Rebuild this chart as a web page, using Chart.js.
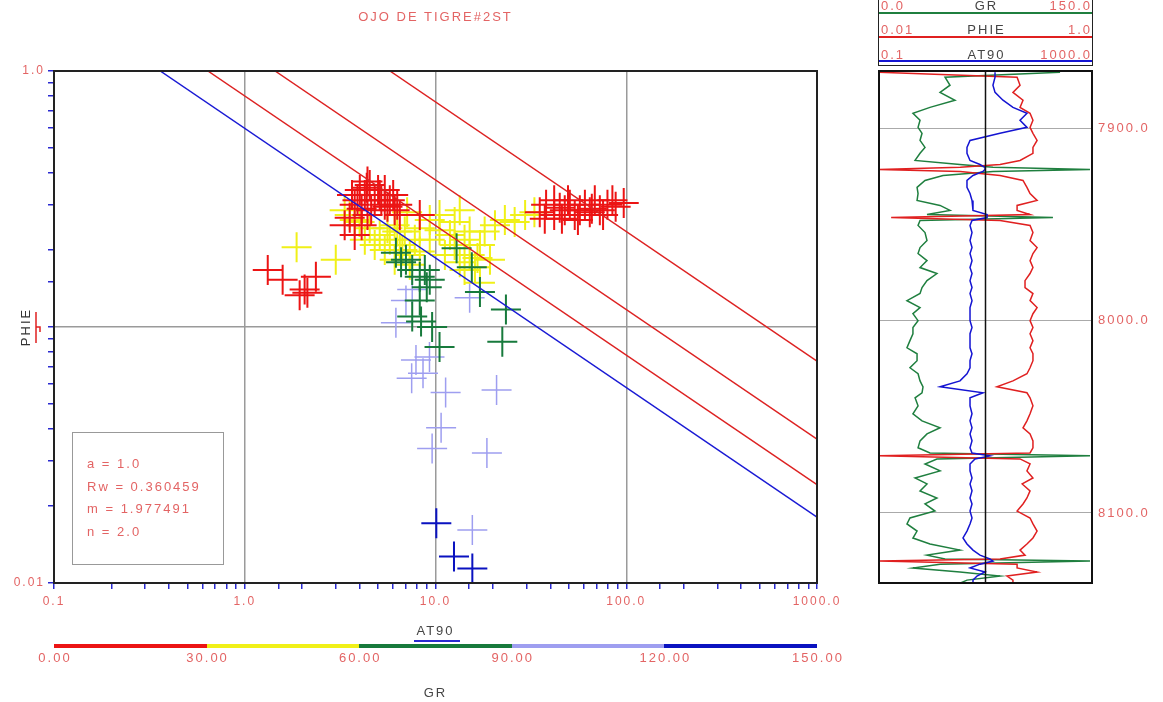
<!DOCTYPE html>
<html>
<head>
<meta charset="utf-8">
<title>OJO DE TIGRE#2ST</title>
<script src="https://cdn.jsdelivr.net/npm/chart.js@4.4.0/dist/chart.umd.min.js"></script>
<style>
    body { margin: 0; background: #fff; font-family: "Liberation Sans", Arial, sans-serif; }
    #page { position: relative; width: 1163px; height: 702px; overflow: hidden; }
    #mainBox { position: absolute; left: 0; top: 0; }
    #wellBox { position: absolute; left: 860px; top: 0; }
    .txt { position: absolute; color: #e36464; font-size: 13px; letter-spacing: 2px; white-space: nowrap; line-height: 1; }
    .mid { transform: translate(-50%, -50%); }
    .lft { transform: translate(0, -50%); }
    .rgt { transform: translate(-100%, -50%); }
    .bar { position: absolute; }
</style>
</head>
<body>
<div id="page">
    <div id="mainBox"><canvas id="pickett" width="860" height="702"></canvas></div>
    <div id="wellBox"><canvas id="welllog" width="303" height="702"></canvas></div>
    <div id="overlay"></div>
</div>
<script>
// ---- pickett plot data (AT90 vs PHIE), grouped by GR bin ----
const grEdges = [0, 30, 60, 90, 120, 150];
const grColors = ['#ec1414', '#f0f018', '#177a3c', '#9e9ef0', '#0a12c0'];

const redRt = [1.32, 1.58, 2.06, 2.36, 1.94, 2.13,
    4.01, 4.26, 4.52, 4.80, 5.10, 5.42, 4.6, 5.76, 6.11, 3.77, 4.1, 3.77, 4.4, 6.50, 8.27, 3.34, 5.0, 5.42,
    3.65, 3.9, 4.36, 5.2, 5.6, 4.1, 3.55, 6.0, 6.3, 4.4,
    35.2, 38, 41.9, 44.8, 47.6, 50.6, 53.7, 57.1, 60.7, 64.4, 68.4, 72.7, 79.7, 88, 97, 41.9, 46,
    37.4, 49.5, 55.8, 66, 75.6, 84.6];
const redPhi = [0.167, 0.153, 0.140, 0.157, 0.133, 0.136,
    0.343, 0.328, 0.359, 0.313, 0.328, 0.300, 0.286, 0.313, 0.286, 0.300, 0.250, 0.229, 0.274, 0.274, 0.274, 0.250, 0.343, 0.343,
    0.328, 0.313, 0.350, 0.313, 0.295, 0.290, 0.267, 0.328, 0.300, 0.370,
    0.281, 0.300, 0.274, 0.292, 0.286, 0.300, 0.274, 0.286, 0.300, 0.281, 0.313, 0.286, 0.300, 0.295, 0.305, 0.313, 0.265,
    0.265, 0.313, 0.262, 0.290, 0.274, 0.313];

const yellowRt = [1.87, 3.00, 3.55, 4.0, 4.52, 5.10, 5.76, 6.11, 6.50, 6.90, 7.33, 5.42, 4.80, 4.26, 3.77, 7.79, 8.27, 9.33,
    10.5, 12.6, 14.2, 15.1, 16.1, 17.1, 18.1, 19.3, 13.4, 20.5, 23.1, 26.0, 29.5, 7.1, 13.4, 3.34, 6.11, 17.1, 10.5, 11.9,
    6.3, 5.6, 6.7, 15.1, 16.6, 33, 8.27, 11.2, 12.6, 9.33, 14.2, 7.33];
const yellowPhi = [0.205, 0.183, 0.274, 0.257, 0.243, 0.229, 0.219, 0.250, 0.209, 0.236, 0.191, 0.200, 0.209, 0.219, 0.262, 0.219, 0.243, 0.262,
    0.274, 0.257, 0.219, 0.191, 0.171, 0.209, 0.236, 0.183, 0.179, 0.250, 0.262, 0.257, 0.274, 0.281, 0.286, 0.286, 0.183, 0.149, 0.239, 0.229,
    0.236, 0.243, 0.200, 0.236, 0.186, 0.281, 0.197, 0.191, 0.209, 0.219, 0.167, 0.175];

const greenRt = [6.2, 7.0, 7.55, 8.27, 9.0, 8.27, 7.55, 8.4, 9.6, 10.5, 12.9, 15.5, 17.1, 23.4, 22.4, 6.6, 9.33, 8.79];
const greenPhi = [0.195, 0.183, 0.167, 0.157, 0.143, 0.127, 0.110, 0.105, 0.100, 0.0836, 0.203, 0.171, 0.137, 0.117, 0.0875, 0.179, 0.153, 0.167];

const lilacRt = [7.0, 15.1, 6.2, 7.9, 8.6, 7.5, 11.3, 10.7, 9.6, 18.6, 20.9, 15.6, 9.3, 7.55];
const lilacPhi = [0.127, 0.130, 0.104, 0.0743, 0.066, 0.063, 0.0555, 0.0404, 0.0335, 0.0322, 0.0568, 0.0161, 0.0764, 0.140];

const blueRt = [10.1, 12.5, 15.6];
const bluePhi = [0.0171, 0.0127, 0.0114];

// Sw lines (endpoints): Sw = 1.0 (blue), 0.75, 0.5, 0.25 (red)
const swValues = [1.0, 0.75, 0.5, 0.25];
const swLineRt = [[0.3605, 1000], [0.6408, 1000], [1.4418, 1000], [5.767, 1000]];
const swLinePhi = [[1.0, 0.0181], [1.0, 0.0242], [1.0, 0.0365], [1.0, 0.0736]];

const xTickValues = [0.1, 1, 10, 100, 1000];
const xTickLabels = ['0.1', '1.0', '10.0', '100.0', '1000.0'];
const yTickValues = [1, 0.01];
const yTickLabels = ['1.0', '0.01'];

const archieNames = ['a', 'Rw', 'm', 'n'];
const archieValues = ['1.0', '0.360459', '1.977491', '2.0'];

// ---- well log track data ----
const depth = [7870.8, 7873.4, 7877.6, 7881.3, 7885.4, 7889.1, 7892.2, 7895.8, 7899.5, 7902.6,
    7906.3, 7909.9, 7913.0, 7916.7, 7918.8, 7920.3, 7921.4, 7922.4, 7924.5, 7927.1,
    7930.7, 7933.9, 7937.5, 7940.1, 7942.7, 7944.8, 7946.4, 7947.9, 7950.5, 7954.2,
    7958.3, 7962.0, 7965.1, 7968.8, 7972.4, 7975.5, 7979.2, 7982.8, 7985.9, 7989.6,
    7993.2, 7996.4, 8000.0, 8003.6, 8006.8, 8010.4, 8014.1, 8017.2, 8020.8, 8024.5,
    8027.6, 8031.3, 8034.4, 8037.5, 8040.1, 8044.3, 8048.4, 8052.1, 8055.7, 8058.9,
    8062.5, 8066.1, 8068.8, 8070.3, 8071.9, 8074.5, 8078.1, 8081.8, 8084.9, 8088.5,
    8092.2, 8095.3, 8099.0, 8102.6, 8105.7, 8109.4, 8113.0, 8116.1, 8119.3, 8121.9,
    8123.9, 8125.0, 8126.6, 8128.6, 8130.7, 8132.8, 8134.9, 8136.5];
const grLog = [127.5, 46.5, 50.0, 43.0, 53.5, 35.9, 23.9, 28.9, 27.5, 30.3,
    28.9, 32.4, 28.9, 25.4, 57.0, 80.3, 148.6, 80.3, 45.1, 32.4,
    26.8, 27.5, 26.8, 43.0, 50.0, 33.8, 122.5, 28.9, 27.5, 32.4,
    33.8, 28.9, 27.5, 33.8, 28.9, 40.8, 33.8, 30.3, 28.9, 19.7,
    28.9, 23.9, 27.5, 23.9, 23.9, 21.8, 19.7, 26.8, 26.8, 21.8,
    27.5, 28.9, 31.0, 30.3, 25.4, 27.5, 23.9, 30.3, 43.0, 33.8,
    28.9, 27.5, 35.9, 148.6, 40.8, 32.4, 43.0, 25.4, 33.8, 28.9,
    40.8, 32.4, 39.4, 21.8, 19.7, 26.8, 23.9, 35.9, 57.0, 33.8,
    46.5, 148.6, 43.0, 23.9, 57.0, 85.2, 62.0, 57.0];
const phieLog = [0.010, 0.198, 0.211, 0.181, 0.225, 0.211, 0.262, 0.279, 0.262, 0.279,
    0.305, 0.279, 0.279, 0.211, 0.137, 0.058, 0.010, 0.058, 0.137, 0.225,
    0.245, 0.262, 0.305, 0.198, 0.198, 0.262, 0.013, 0.137, 0.262, 0.279,
    0.262, 0.305, 0.279, 0.262, 0.279, 0.262, 0.235, 0.235, 0.279, 0.262,
    0.305, 0.279, 0.262, 0.279, 0.262, 0.279, 0.262, 0.279, 0.279, 0.262,
    0.245, 0.181, 0.128, 0.245, 0.262, 0.279, 0.262, 0.245, 0.225, 0.262,
    0.279, 0.279, 0.262, 0.010, 0.211, 0.262, 0.245, 0.279, 0.221, 0.262,
    0.245, 0.225, 0.198, 0.262, 0.279, 0.305, 0.279, 0.245, 0.211, 0.235,
    0.137, 0.010, 0.198, 0.198, 0.305, 0.159, 0.181, 0.181];
const at90Log = [15.1, 15.1, 13.8, 15.1, 21.3, 32.8, 60.1, 44.5, 60.1, 18.7,
    5.12, 4.49, 4.49, 5.12, 7.88, 9.79, 9.79, 8.98, 5.82, 4.49,
    4.49, 5.12, 5.58, 5.82, 5.82, 10.7, 10.7, 5.58, 5.12, 5.58,
    5.12, 5.58, 5.12, 5.58, 5.12, 5.58, 5.12, 5.58, 5.12, 5.58,
    5.12, 5.12, 5.12, 5.58, 5.12, 5.12, 5.12, 5.58, 5.12, 5.12,
    4.49, 3.32, 1.40, 8.98, 5.12, 5.12, 5.58, 5.12, 5.58, 5.12,
    5.58, 5.12, 5.58, 12.1, 6.35, 5.12, 5.12, 5.58, 5.12, 5.58,
    5.12, 5.58, 5.12, 5.58, 5.12, 4.49, 3.78, 4.49, 5.82, 7.88,
    12.1, 13.8, 7.88, 5.12, 9.79, 6.92, 5.82, 5.82];
const depthTicks = [7900, 8000, 8100];

const textRed = '#e36464';
Chart.defaults.font.family = '"Liberation Sans", Arial, sans-serif';

function isDecade(v) {
    const l = Math.log10(v);
    return Math.abs(l - Math.round(l)) < 1e-6;
}

function labelFor(v, values, labels) {
    const idx = values.findIndex((t) => Math.abs(Math.log10(v) - Math.log10(t)) < 1e-6);
    return idx >= 0 ? labels[idx] : '';
}

function pairs(xs, ys) {
    return xs.map((x, i) => ({ x: x, y: ys[i] }));
}

// frame + PHIE colour mark + letter spacing
const pickettDecor = {
    id: 'pickettDecor',
    beforeDraw(chart) {
        chart.ctx.letterSpacing = '2px';
    },
    afterDatasetsDraw(chart) {
        const { ctx, chartArea } = chart;
        ctx.save();
        ctx.strokeStyle = '#222';
        ctx.lineWidth = 2;
        ctx.strokeRect(chartArea.left, chartArea.top, chartArea.width, chartArea.height);
        // red legend mark next to PHIE title
        const yMid = (chartArea.top + chartArea.bottom) / 2;
        ctx.strokeStyle = '#e02020';
        ctx.lineWidth = 1.5;
        ctx.beginPath();
        ctx.moveTo(36, yMid - 15);
        ctx.lineTo(36, yMid + 16);
        ctx.moveTo(36, yMid);
        ctx.lineTo(40, yMid);
        ctx.lineTo(40, yMid + 5);
        ctx.stroke();
        ctx.restore();
    }
};

const swDatasets = swValues.map((sw, i) => ({
    label: 'Sw ' + sw,
    type: 'line',
    data: pairs(swLineRt[i], swLinePhi[i]),
    borderColor: sw === 1.0 ? '#1a1ad4' : '#dd2222',
    borderWidth: 1.5,
    pointRadius: 0,
    fill: false
}));

function crossSet(label, xs, ys, color, width) {
    return {
        label: label,
        data: pairs(xs, ys),
        pointStyle: 'cross',
        pointRadius: 15,
        borderColor: color,
        backgroundColor: color,
        borderWidth: width
    };
}

const pickett = new Chart(document.getElementById('pickett'), {
    type: 'scatter',
    data: {
        datasets: swDatasets.concat([
            crossSet('GR 60-90', greenRt, greenPhi, grColors[2], 2),
            crossSet('GR 0-30', redRt, redPhi, grColors[0], 2),
            crossSet('GR 30-60', yellowRt, yellowPhi, grColors[1], 2),
            crossSet('GR 90-120', lilacRt, lilacPhi, grColors[3], 1.5),
            crossSet('GR 120-150', blueRt, bluePhi, grColors[4], 2)
        ])
    },
    options: {
        responsive: false,
        animation: false,
        layout: { padding: { left: 0, top: 71, right: 43, bottom: 89 } },
        plugins: { legend: { display: false }, tooltip: { enabled: false } },
        scales: {
            x: {
                type: 'logarithmic',
                min: 0.1,
                max: 1000,
                afterFit(s) { s.height = 30; },
                grid: {
                    color: (c) => (c.tick && isDecade(c.tick.value)) ? '#9a9a9a' : 'rgba(0,0,0,0)',
                    lineWidth: 1.5,
                    tickColor: '#2a2ad0',
                    tickLength: 6,
                    tickWidth: 1.5
                },
                border: { color: '#222', width: 2 },
                ticks: {
                    autoSkip: false,
                    maxRotation: 0,
                    color: textRed,
                    font: { size: 12 },
                    padding: 5,
                    callback: (v) => labelFor(v, xTickValues, xTickLabels)
                }
            },
            y: {
                type: 'logarithmic',
                min: 0.01,
                max: 1,
                afterFit(s) { s.width = 54; },
                grid: {
                    color: (c) => (c.tick && isDecade(c.tick.value)) ? '#9a9a9a' : 'rgba(0,0,0,0)',
                    lineWidth: 1.5,
                    tickColor: '#2a2ad0',
                    tickLength: 6,
                    tickWidth: 1.5
                },
                border: { color: '#222', width: 2 },
                title: {
                    display: true,
                    text: 'PHIE',
                    color: '#333',
                    font: { size: 13 },
                    padding: { top: 19, bottom: 0 }
                },
                ticks: {
                    autoSkip: false,
                    color: textRed,
                    font: { size: 12 },
                    padding: 3,
                    callback: (v) => labelFor(v, yTickValues, yTickLabels)
                }
            }
        }
    },
    plugins: [pickettDecor]
});

// ---- well log track ----
const wellDecor = {
    id: 'wellDecor',
    beforeDraw(chart) {
        chart.ctx.letterSpacing = '2px';
    },
    afterDatasetsDraw(chart) {
        const { ctx, chartArea, scales } = chart;
        ctx.save();
        ctx.strokeStyle = '#111';
        ctx.lineWidth = 1.5;
        const xc = scales.gr.getPixelForValue(75);
        ctx.beginPath();
        ctx.moveTo(xc, chartArea.top);
        ctx.lineTo(xc, chartArea.bottom);
        ctx.stroke();
        ctx.lineWidth = 2;
        ctx.strokeRect(chartArea.left, chartArea.top, chartArea.width, chartArea.height);
        ctx.restore();
    }
};

function curve(label, values, axis, color) {
    return {
        label: label,
        data: values.map((v, i) => ({ x: v, y: depth[i] })),
        xAxisID: axis,
        showLine: true,
        borderColor: color,
        borderWidth: 1.5,
        pointRadius: 0
    };
}

const well = new Chart(document.getElementById('welllog'), {
    type: 'scatter',
    data: {
        datasets: [
            curve('AT90', at90Log, 'at90', '#1414d2'),
            curve('PHIE', phieLog, 'phie', '#e02020'),
            curve('GR', grLog, 'gr', '#1f7f3f')
        ]
    },
    options: {
        responsive: false,
        animation: false,
        layout: { padding: { left: 19, top: 71, right: 0, bottom: 119 } },
        plugins: { legend: { display: false }, tooltip: { enabled: false } },
        scales: {
            y: {
                type: 'linear',
                position: 'right',
                reverse: true,
                min: 7870.2,
                max: 8136.4,
                afterFit(s) { s.width = 71; },
                afterBuildTicks(s) { s.ticks = depthTicks.map((v) => ({ value: v })); },
                grid: { color: '#aaa', lineWidth: 1, drawTicks: false },
                border: { display: false },
                ticks: {
                    color: textRed,
                    font: { size: 13 },
                    padding: 6,
                    callback: (v) => Number(v).toFixed(1)
                }
            },
            gr: { type: 'linear', min: 0, max: 150, display: false },
            phie: { type: 'logarithmic', min: 0.01, max: 1, display: false },
            at90: { type: 'logarithmic', min: 0.1, max: 1000, display: false }
        }
    },
    plugins: [wellDecor]
});

// ---- html overlays: title, axis names, GR colour bar, Archie box, log header ----
const overlay = document.getElementById('overlay');

function addText(text, x, y, cls, color) {
    const el = document.createElement('div');
    el.className = 'txt ' + cls;
    el.textContent = text;
    el.style.left = x + 'px';
    el.style.top = y + 'px';
    if (color) {
        el.style.color = color;
    }
    overlay.appendChild(el);
    return el;
}

function addBar(x, y, w, h, color, extra) {
    const el = document.createElement('div');
    el.className = 'bar';
    el.style.left = x + 'px';
    el.style.top = y + 'px';
    el.style.width = w + 'px';
    el.style.height = h + 'px';
    if (color) {
        el.style.background = color;
    }
    if (extra) {
        Object.assign(el.style, extra);
    }
    overlay.appendChild(el);
    return el;
}

const area = pickett.chartArea;
const midX = (area.left + area.right) / 2;

addText('OJO DE TIGRE#2ST', midX, 16, 'mid');
addText('AT90', midX, 630, 'mid', '#444');
addBar(midX - 22, 640, 46, 2, '#2a2ad0');
addText('GR', midX, 692, 'mid', '#444');

// colour bar
const barW = area.right - area.left;
grColors.forEach((c, i) => {
    const x0 = area.left + barW * (grEdges[i] - grEdges[0]) / (grEdges[5] - grEdges[0]);
    const x1 = area.left + barW * (grEdges[i + 1] - grEdges[0]) / (grEdges[5] - grEdges[0]);
    addBar(x0, 644, x1 - x0, 4, c);
});
grEdges.forEach((v, i) => {
    const x = area.left + barW * (v - grEdges[0]) / (grEdges[5] - grEdges[0]);
    addText(v.toFixed(2), x + 1, 657, 'mid');
});

// Archie parameter box
addBar(72, 432, 152, 133, null, { border: '1px solid #999', boxSizing: 'border-box' });
archieNames.forEach((n, i) => {
    addText(n + ' = ' + archieValues[i], 87, 463 + i * 22.7, 'lft');
});

// log header
const wl = well.chartArea.left + 860;
const wr = well.chartArea.right + 860;
const ww = wr - wl;
addBar(wl - 1, -2, ww + 2, 68, null, { borderLeft: '1.5px solid #222', borderRight: '1.5px solid #222', borderBottom: '1.5px solid #222', boxSizing: 'border-box' });
const headerRows = [
    { name: 'GR', lo: '0.0', hi: '150.0', color: '#1f7f3f', line: 11.5, text: 5 },
    { name: 'PHIE', lo: '0.01', hi: '1.0', color: '#e02020', line: 35.5, text: 29 },
    { name: 'AT90', lo: '0.1', hi: '1000.0', color: '#1414d2', line: 60, text: 54 }
];
headerRows.forEach((r) => {
    addBar(wl, r.line, ww, 2, r.color);
    addText(r.lo, wl + 2, r.text, 'lft');
    addText(r.name, (wl + wr) / 2 + 1, r.text, 'mid', '#444');
    addText(r.hi, wr, r.text, 'rgt');
});
</script>
</body>
</html>
